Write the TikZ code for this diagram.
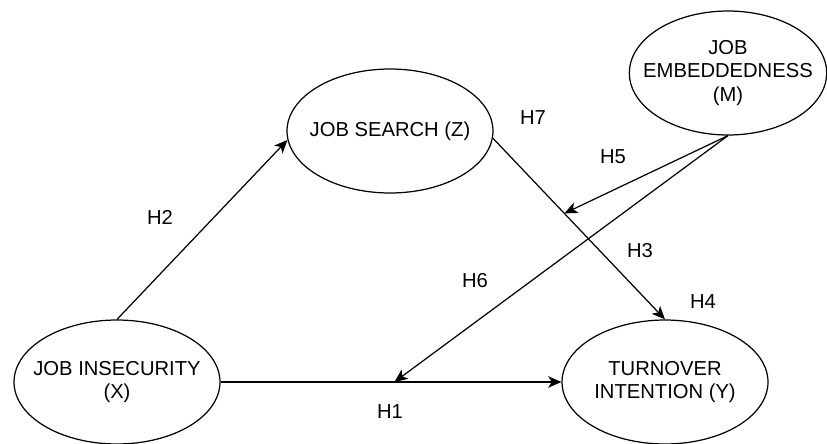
\documentclass[tikz,border=0pt]{standalone}
\usepackage{fontspec}
\setmainfont{Liberation Sans}
\usepackage{tikz}
\usetikzlibrary{arrows.meta,shapes.geometric,calc}

\begin{document}
\begin{tikzpicture}[x=0.02cm, y=-0.02cm,
  var/.style={draw, ellipse, line width=0.7pt, inner xsep=-0.3cm, inner ysep=0pt,
              align=center, minimum width=4.12cm, minimum height=2.48cm,
              font=\fontsize{11.5}{13.5}\selectfont},
  hyp/.style={font=\fontsize{11.5}{13.5}\selectfont},
  link/.style={draw, line width=0.7pt, -{Stealth[length=7.5pt, width=6.5pt, inset=2pt]}}]
\useasboundingbox (0,0) rectangle (827,443);
% variables
\node[var] (ji) at (117,382) {JOB INSECURITY\\(X)};
\node[var] (js) at (390,131) {JOB SEARCH (Z)};
\node[var, minimum width=3.92cm] (je) at (728,73) {JOB\\EMBEDDEDNESS\\(M)};
\node[var] (ti) at (665,382) {TURNOVER\\INTENTION (Y)};
% paths
\draw[link] (ji.north) -- (js.185);
\draw[link] (ji.east) -- (ti.west);
\draw[link] (js.356) -- (ti.north);
\coordinate (mz) at ($(js.356)!0.415!(ti.north)$);
\coordinate (mx) at ($(ji.east)!0.51!(ti.west)$);
\draw[link] (je.south) -- (mz);
\draw[link] (je.south) -- (mx);
% hypotheses
\node[hyp] (h1) at (390,412) {H1};
\node[hyp] (h2) at (160,217) {H2};
\node[hyp] (h3) at (640,251) {H3};
\node[hyp] (h4) at (703,302) {H4};
\node[hyp] (h5) at (613,157) {H5};
\node[hyp] (h6) at (475,281) {H6};
\node[hyp] (h7) at (533,118) {H7};
\end{tikzpicture}
\end{document}
